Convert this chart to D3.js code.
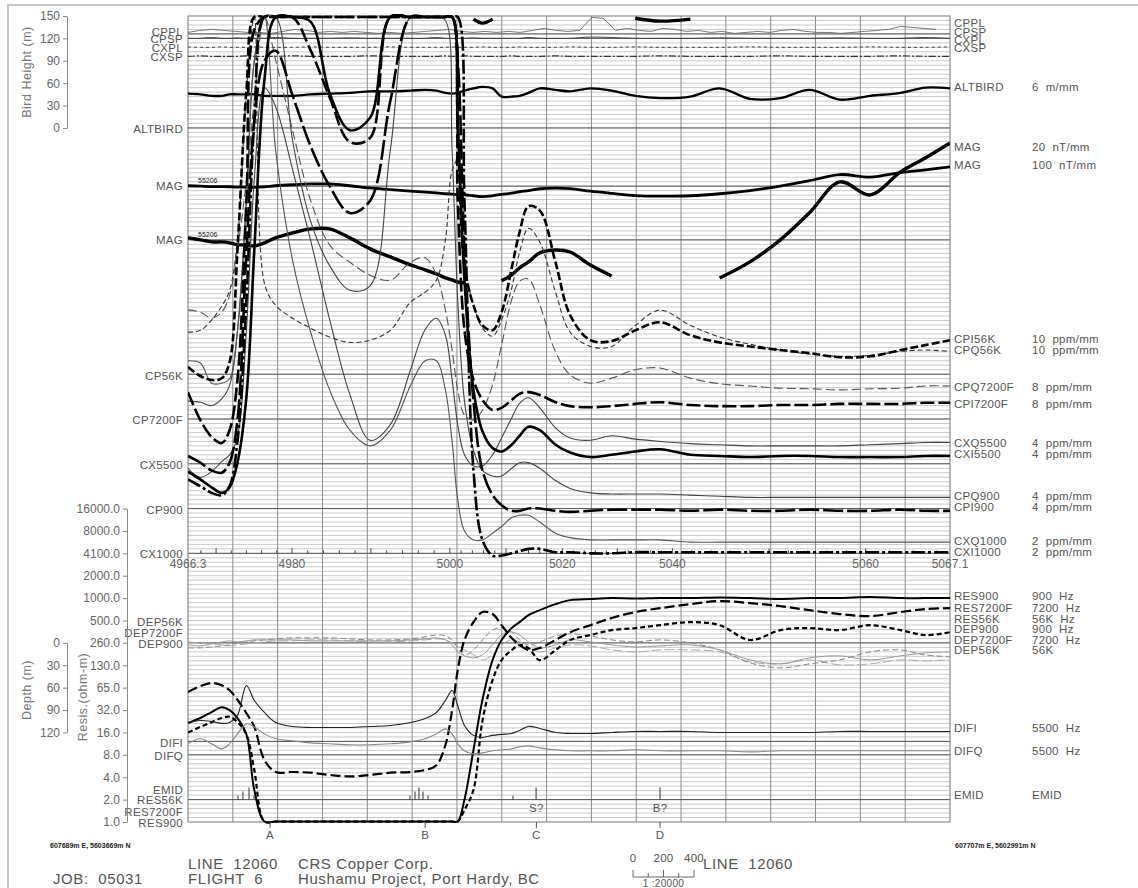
<!DOCTYPE html>
<html lang="en">
  <head>
    <meta charset="UTF-8" />
    <title>Line 12060 EM profile</title>
    <style>
      body { margin: 0; background: #fff; }
      svg { display: block; font-family: "Liberation Sans", Arial, sans-serif; }
      .lbl { font-size: 11.5px; fill: #555; letter-spacing: 0.3px; }
      .tick-lbl { font-size: 12px; fill: #666; }
      .axis-title { font-size: 12.5px; fill: #777; letter-spacing: 0.5px; }
      .coord { font-size: 7px; fill: #222; font-weight: bold; }
      .title { font-size: 15px; fill: #555; letter-spacing: 0.6px; }
    </style>
  </head>
  <body>
    <script src="https://cdn.jsdelivr.net/npm/d3@7"></script>
    <script>
      // sample positions along the line (m from start of plot)
      const dist = [0, 11, 21, 30, 37, 44, 52, 59, 68, 78, 93, 109, 126, 144, 162, 180, 198, 211, 221, 229,
        235, 240, 246, 254, 262, 271, 279, 288, 295, 303, 313, 327, 340, 358, 377, 398, 420, 447, 473, 500,
        527, 553, 580, 607, 634, 656, 678];

      // fiducials along the bottom axis and where they fall on the line
      const fidMarks = [4966.3, 4980, 5000, 5020, 5040, 5060, 5067.1];
      const fidDist = [0, 92.5, 233, 333, 431, 603, 678];
      const fidLabels = ["4966.3", "4980", "5000", "5020", "5040", "5060", "5067.1"];

      // bird height (m)
      const altbird = [46, 45, 43, 43, 45, 45, 45, 45, 43, 43, 43, 45, 46, 47, 49, 49, 50, 51, 50, 47,
        46, 47, 50, 53, 55, 53, 42, 42, 43, 47, 53, 51, 49, 53, 50, 43, 40, 42, 53, 39,
        40, 51, 38, 43, 47, 54, 53];

      // total magnetic field (nT)
      const magRef = 55206;
      const mag = [55215, 55206, 55197, 55197, 55193, 55184, 55184, 55179, 55193, 55215, 55237, 55255, 55255, 55215, 55166, 55130, 55094, 55072, 55054, 55036,
        55027, 55018, 55014, 54992, 54974, 54992, 55023, 55050, 55081, 55108, 55148, 55161, 55152, 55094, 55045, 54996, 54983, 54992, 55036, 55108,
        55206, 55327, 55465, 55407, 55510, 55572, 55639];

      // power line monitor (raw samples) and sferics monitors
      const cppl = [3.3, 7.8, 10, 7.8, 5.6, 3.3, 3.3, 1.1, 5.6, 10, 7.8, 3.3, 5.6, 3.3, 5.6, 3.3, 1.1, 3.3, 1.1, 3.3,
        5.6, 7.8, 10, 5.6, 3.3, 5.6, 3.3, 5.6, 3.3, 7.8, 12.3, 7.8, 5.6, 7.8, 36.8, 34.6, 7.8, 12.3, 7.8, 5.6,
        12.3, 10, 5.6, 7.8, 3.3, 5.6, 1.1, 3.3, 5.6, 3.3, 7.8, 10, 5.6, 3.3, 3.3, 1.1, 3.3, 5.6, 7.8, 10,
        16.7, 14.5, 12.3, 10];
      const cpsp = [0, 0, 0.2, 0, 0, 0.1, 0, 0, 0, 0.2, 0, 0, 0, 0.1, 0, 0, 0, 0, 0.2, 0, 0, 0, 0, 0.1, 0, 0, 0, 0, 0, 0.2,
        0, 0, 0, 0.3, 0.2, 0, 0, 0, 0.1, 0, 0, 0, 0.1, 0, 0, 0.2, 0];
      const cxpl = [0.1, 0, 0, 0.1, 0, 0, 0, 0.1, 0, 0, 0, 0.1, 0, 0, 0, 0.1, 0, 0, 0, 0, 0.1, 0, 0, 0, 0.1, 0, 0, 0, 0.1, 0,
        0, 0, 0.1, 0, 0, 0.1, 0, 0, 0, 0.1, 0, 0, 0, 0.1, 0, 0, 0.1];
      const cxsp = [0, 0.1, 0, 0, 0, 0, 0.1, 0, 0, 0, 0.1, 0, 0, 0, 0.1, 0, 0, 0, 0, 0.1, 0, 0, 0.1, 0, 0, 0, 0, 0.1, 0, 0,
        0, 0.1, 0, 0, 0, 0, 0.1, 0, 0, 0, 0.1, 0, 0, 0, 0.1, 0, 0];

      // EM in-phase / quadrature (ppm)
      const cpi56k = [16, -4, -13, -9, 27, 277, 634, 950, 950, 950, 950, 950, 950, 950, 950, 950, 950, 950, 950, 950,
        950, 545, 243, 154, 109, 98, 138, 237, 317, 375, 366, 250, 132, 76, 74, 98, 116, 87, 71, 62,
        54, 47, 38, 40, 54, 65, 76];
      const cpq56k = [94, 98, 121, 152, 187, 299, 634, 950, 203, 154, 125, 103, 83, 71, 76, 98, 161, 183, 210, 299,
        455, 478, 250, 154, 103, 85, 121, 192, 272, 326, 295, 183, 94, 62, 62, 109, 143, 109, 83, 67,
        54, 45, 40, 42, 51, 54, 51];
      const cpi7200f = [48, -2, -32, -43, -20, 70, 391, 695, 900, 900, 718, 659, 575, 495, 502, 900, 900, 900, 900, 900,
        900, 391, 159, 70, 34, 16, 20, 34, 45, 48, 43, 30, 23, 21, 23, 27, 30, 25, 23, 23,
        25, 25, 27, 27, 27, 29, 29];
      const cpq7200f = [195, 191, 180, 191, 221, 302, 427, 570, 800, 641, 516, 391, 311, 280, 257, 248, 280, 288, 257, 195,
        123, 52, 7, -2, 16, 61, 132, 213, 246, 250, 204, 120, 79, 64, 73, 88, 91, 73, 63, 59,
        55, 54, 52, 54, 55, 59, 59];
      const cxi5500 = [-7, -14, -21, -26, -21, 1, 60, 191, 343, 500, 500, 395, 331, 298, 309, 500, 500, 500, 500, 500,
        500, 307, 164, 66, 29, 14, 11, 17, 25, 33, 30, 17, 10, 6, 8, 11, 13, 8, 7, 6,
        7, 7, 6, 6, 6, 7, 7];
      const cxq5500 = [-4, -12, -7, 2, 8, 24, 120, 254, 336, 319, 263, 200, 129, 62, 21, 35, 84, 120, 130, 115,
        75, 35, 8, -2, -2, 8, 23, 41, 54, 59, 50, 32, 23, 21, 25, 22, 20, 18, 17, 16,
        16, 16, 16, 17, 18, 19, 19];
      const cpi900 = [47, 41, 34, 32, 41, 79, 230, 346, 400, 409, 369, 324, 288, 264, 275, 364, 600, 600, 600, 600,
        600, 400, 230, 96, 34, 12, 3, -2, -2, 0, 0, -2, -3, -2, -1, -1, -1, -2, -1, -2, -2, -1, -2, -2, -1, -2, -2];
      const cpq900 = [96, 95, 92, 98, 110, 159, 275, 400, 600, 600, 329, 257, 217, 195, 199, 320, 600, 600, 600, 436,
        320, 186, 96, 52, 34, 29, 29, 36, 41, 41, 36, 25, 18, 14, 13, 13, 13, 12, 11, 10,
        10, 10, 10, 10, 10, 10, 10];
      const cxi1000 = [33, 30, 27, 26, 30, 50, 113, 193, 300, 300, 300, 300, 300, 300, 300, 300, 300, 300, 300, 300,
        300, 300, 157, 37, 6, -1, -1, 0, 1, 2, 2, 0.5, 0.5, 0, 0, 0.5, 0.5, 0.5, 0.5, 0.5,
        0.5, 0.5, 0.5, 0.5, 0.5, 0.5, 0.5];
      const cxq1000 = [86, 85, 76, 76, 78, 99, 157, 220, 300, 180, 131, 99, 73, 55, 48, 55, 75, 86, 86, 73,
        50, 24, 10, 6, 6, 9, 12, 16, 17, 17, 14, 9, 7, 6, 6, 6, 6, 5, 5, 5,
        5, 5, 5, 5, 5, 5, 5];

      // apparent resistivity (ohm-m)
      const res900 = [21.4, 25, 30, 35, 32, 25, 15, 2.7, 0.8, 0.8, 0.8, 0.8, 0.8, 0.8, 0.8, 0.8, 0.8, 0.8, 0.8, 0.8,
        0.8, 0.9, 2.0, 9.3, 44, 150, 280, 405, 487, 605, 705, 850, 962, 995, 1024, 1010, 1030, 1024, 1040, 1024,
        1000, 1024, 1030, 1060, 1024, 1024, 1024];
      const res7200f = [56, 67, 74, 69, 59, 44, 29, 19, 6.8, 4.7, 4.7, 4.6, 4.3, 4.1, 4.3, 4.6, 4.7, 5.0, 5.8, 10.8,
        32, 110, 280, 487, 665, 625, 443, 297, 239, 205, 218, 280, 357, 443, 552, 665, 750, 850, 934, 878,
        799, 705, 625, 588, 665, 729, 750];
      const res56k = [16, 19, 22, 25, 26, 22, 15, 5.0, 0.8, 0.8, 0.8, 0.8, 0.8, 0.8, 0.8, 0.8, 0.8, 0.8, 0.8, 0.8,
        0.8, 0.8, 1.45, 2.7, 23, 81, 150, 205, 239, 218, 150, 205, 280, 326, 380, 405, 443, 487, 443, 280,
        380, 405, 380, 443, 380, 326, 357];

      // apparent depth (m)
      const dep900 = [2.7, 4.0, 1.3, -1.3, -2.7, -1.3, -2.7, -4.0, -4.0, -4.0, -4.0, -2.7, -2.7, -2.7, -2.7, -2.7, -4.0, -5.4, -6.7, -4.0,
        2.7, 12.1, 17.4, 20.1, 16.1, 2.7, -10.7, -14.7, -10.7, -1.3, 6.7, 2.7, -4.0, -1.3, 2.7, 5.4, 4.0, 2.7, 9.4, 22.8,
        28.1, 20.1, 17.4, 22.8, 17.4, 13.4, 12.1];
      const dep7200f = [6.7, 6.7, 5.4, 4.0, 2.7, 0, -1.3, -2.7, -4.0, -5.4, -6.7, -6.7, -6.7, -5.4, -4.0, -4.0, -5.4, -8.0, -10.7, -9.4,
        -4.0, 6.7, 16.1, 9.4, -4.0, -17.4, -20.1, -14.7, -4.0, 2.7, -1.3, -9.4, -12.1, -9.4, -4.0, -1.3, -4.0, 0, 9.4, 26.8,
        33.5, 28.1, 22.8, 12.1, 9.4, 16.1, 18.7];
      const dep56k = [-1.3, 0, 1.3, 2.7, 4.0, 2.7, 1.3, 0, -1.3, -2.7, -2.7, -4.0, -4.0, -2.7, -1.3, -1.3, -2.7, -4.0, -5.4, -4.0,
        0, 4.0, 9.4, 16.1, 22.8, 16.1, 2.7, -4.0, -1.3, 6.7, 12.1, 6.7, 2.7, 4.0, 9.4, 12.1, 9.4, 9.4, 12.1, 25.4,
        28.1, 22.8, 29.5, 28.1, 22.8, 24.1, 22.8];

      // difference channels, 5500 Hz (ppm)
      const difi = [21.2, 23.4, 22.3, 20.1, 21.2, 29, 62.5, 45.7, 32.3, 21.2, 16.7, 15.6, 15.6, 15.6, 16.7, 17.8, 21.2, 25.6, 32.3, 45.7,
        56.9, 39.9, 17.8, 6.7, 4.4, 6.7, 7.8, 8.9, 12.2, 16.7, 14.5, 10, 8.9, 8.9, 10, 11.1, 11.1, 11.1, 10, 10,
        10, 10, 11.1, 11.1, 11.1, 11.1, 11.1];
      const difq = [12.3, 17.9, 12.3, 6.7, 12.3, 23.4, 34.6, 31.2, 23.4, 17.9, 15.6, 13.4, 12.3, 11.2, 11.2, 12.3, 14.5, 17.9, 23.4, 29,
        23.4, 12.3, 4.5, 1.1, 2.2, 4.5, 5.6, 6.7, 8.9, 10, 7.8, 5.6, 4.5, 4.5, 4.5, 5.6, 4.5, 4.5, 4.5, 3.3,
        4.5, 4.5, 4.5, 4.5, 4.5, 4.5, 4.5];

      // EM picks and interpreted anomalies
      const emidDist = [44.5, 48.9, 54.3, 58.7, 197.5, 202, 205.5, 209.1, 213.6, 289.2, 309.7, 420];
      const emidGrade = [1, 2, 3, 1, 1, 2, 3, 2, 1, 1, 3, 3];
      const anomalies = ["A", "B", "C", "D"];
      const anomalyDist = [73, 211, 310, 420];
      const anomalyNote = ["", "", "S?", "B?"];

      const birdTicks = [0, 30, 60, 90, 120, 150];
      const depthTicks = [0, 30, 60, 90, 120];
      const resisTicks = [1, 2, 4, 8, 16, 32, 64, 128, 256, 512, 1024, 2048, 4096, 8192, 16384];
      const resisLabels = ["1.0", "2.0", "4.0", "8.0", "16.0", "32.0", "65.0", "130.0", "260.0", "500.0",
        "1000.0", "2000.0", "4100.0", "8000.0", "16000.0"];

      // ---------------- drawing ----------------
      const svg = d3.select("body").append("svg").attr("width", 1138).attr("height", 888);

      const plot = { left: 188, right: 950, top: 16, bottom: 822 };
      const paperX = d3.scaleLinear().domain([0, 170]).range([plot.left, plot.right]); // chart paper, mm
      const paperY = d3.scaleLinear().domain([0, 180]).range([plot.bottom, plot.top]);
      const x = d3.scaleLinear().domain([0, 678]).range([plot.left, plot.right]);
      const fidScale = d3.scaleLinear().domain(fidMarks).range(fidDist);

      // a channel drawn at baseline `base` (mm) with `perMm` units per mm
      const mmScale = (base, perMm, ref = 0) =>
        d3.scaleLinear().domain([ref, ref + perMm]).range([paperY(base), paperY(base + 1)]);
      const clampY = y => Math.max(plot.top + 1, Math.min(plot.bottom - 0.5, y));
      const curve = d3.line().curve(d3.curveCatmullRom.alpha(0.5));

      // outer frame
      svg.append("path").attr("d", "M8,888V5H1138").attr("fill", "none")
        .attr("stroke", "#c8c8c8").attr("stroke-width", 2);

      // paper grid
      const grid = svg.append("g");
      grid.selectAll(".hl").data(d3.range(1, 180)).join("line").attr("class", "hl")
        .attr("x1", plot.left).attr("x2", plot.right)
        .attr("y1", d => paperY(d)).attr("y2", d => paperY(d))
        .attr("stroke", "#bdbdbd").attr("stroke-width", 0.8);
      grid.selectAll(".vl").data(d3.range(10, 170, 10)).join("line").attr("class", "vl")
        .attr("y1", plot.top).attr("y2", plot.bottom)
        .attr("x1", d => paperX(d)).attr("x2", d => paperX(d))
        .attr("stroke", "#8c8c8c").attr("stroke-width", 1);

      // channel baselines
      const baseMm = [176, 175, 155, 142, 130, 100, 90, 80, 70, 60, 40, 18, 15, 5];
      grid.selectAll(".bl").data(baseMm).join("line").attr("class", "bl")
        .attr("x1", plot.left).attr("x2", plot.right)
        .attr("y1", d => paperY(d)).attr("y2", d => paperY(d))
        .attr("stroke", "#555").attr("stroke-width", 1);
      grid.append("rect").attr("x", plot.left).attr("y", plot.top)
        .attr("width", plot.right - plot.left).attr("height", plot.bottom - plot.top)
        .attr("fill", "none").attr("stroke", "#777").attr("stroke-width", 1);

      // fiducial axis on the CX1000 baseline
      const axisY = paperY(60);
      grid.selectAll(".ft").data(d3.range(4968, 5067, 2)).join("line").attr("class", "ft")
        .attr("x1", d => x(fidScale(d))).attr("x2", d => x(fidScale(d)))
        .attr("y1", axisY).attr("y2", d => axisY - (d % 10 === 0 ? 5 : 3))
        .attr("stroke", "#444").attr("stroke-width", 1);
      svg.append("g").selectAll("text").data(fidMarks).join("text")
        .attr("class", "tick-lbl").attr("text-anchor", "middle")
        .attr("x", d => x(fidScale(d))).attr("y", axisY + 15)
        .text((d, i) => fidLabels[i]);

      // traces
      svg.append("clipPath").attr("id", "plotclip").append("rect")
        .attr("x", plot.left).attr("y", plot.top - 2)
        .attr("width", plot.right - plot.left).attr("height", plot.bottom - plot.top + 4);
      const traces = svg.append("g").attr("clip-path", "url(#plotclip)");

      function drawTrace(values, yScale, style, xs = dist, xScale = x) {
        const pts = values.map((v, i) => [xScale(xs[i]), clampY(yScale(v))]);
        const line = style.linear ? d3.line() : curve;
        traces.append("path")
          .attr("d", line(pts))
          .attr("fill", "none")
          .attr("stroke", style.color || "#000")
          .attr("stroke-width", style.w)
          .attr("stroke-dasharray", style.dash || null)
          .attr("stroke-linejoin", "round");
      }

      // monitors
      const cpplX = d3.scaleLinear().domain([0, cppl.length - 1]).range([plot.left, 936]);
      drawTrace(cppl, mmScale(176, 10), { w: 0.9, color: "#666", linear: true }, d3.range(cppl.length), cpplX);
      drawTrace(cpsp, mmScale(175, 1), { w: 1, color: "#444" });
      drawTrace(cxpl, mmScale(173, 1), { w: 1, color: "#444", dash: "3,3" });
      drawTrace(cxsp, mmScale(171, 1), { w: 1.2, color: "#333", dash: "7,2,2,2" });

      // bird height
      const birdY = d3.scaleLinear().domain([0, 150]).range([paperY(155), paperY(180)]);
      drawTrace(altbird, birdY, { w: 2.4 });

      // magnetics: 100 nT/mm, and 20 nT/mm which wraps by 60 mm
      drawTrace(mag, mmScale(142, 100, magRef), { w: 2.8 });
      const mag20 = mmScale(130, 20, magRef);
      const segs = [];
      let seg = [], prev = null;
      mag.forEach((v, i) => {
        const wrapped = (v - magRef) / 20 < -10;
        if (prev !== null && wrapped !== prev) { segs.push(seg); seg = []; }
        const y = mag20(v) - (wrapped ? paperY(0) - paperY(60) : 0);
        seg.push([x(dist[i]), clampY(y)]);
        prev = wrapped;
      });
      segs.push(seg);
      segs.filter(s => s.length > 1).forEach(s => {
        traces.append("path").attr("d", curve(s)).attr("fill", "none")
          .attr("stroke", "#000").attr("stroke-width", 3.4).attr("stroke-linejoin", "round");
      });

      // EM channels
      const emChannels = [
        { data: cpq56k, base: 100, perMm: 10, w: 1.1, dash: "5,3", color: "#333" },
        { data: cpq7200f, base: 90, perMm: 8, w: 1.1, dash: "9,4", color: "#555" },
        { data: cxq5500, base: 80, perMm: 4, w: 1.1, color: "#444" },
        { data: cpq900, base: 70, perMm: 4, w: 1.1, color: "#444" },
        { data: cxq1000, base: 60, perMm: 2, w: 1.1, color: "#555" },
        { data: cpi56k, base: 100, perMm: 10, w: 2.6, dash: "8,3" },
        { data: cpi7200f, base: 90, perMm: 8, w: 2.6, dash: "14,4" },
        { data: cxi5500, base: 80, perMm: 4, w: 2.6 },
        { data: cpi900, base: 70, perMm: 4, w: 2.6, dash: "20,4" },
        { data: cxi1000, base: 60, perMm: 2, w: 2.6, dash: "14,3,3,3" }
      ];
      emChannels.forEach(c => drawTrace(c.data, mmScale(c.base, c.perMm), c));

      // resistivity and depth
      const resY = d3.scaleLog().base(2).domain([1, 16384]).range([paperY(0), paperY(70)]);
      const depY = d3.scaleLinear().domain([0, 120]).range([paperY(40), paperY(20)]);
      drawTrace(dep56k, depY, { w: 1, color: "#aaa", dash: "10,3" });
      drawTrace(dep7200f, depY, { w: 1, color: "#888", dash: "6,3" });
      drawTrace(dep900, depY, { w: 1, color: "#999" });
      drawTrace(res56k, resY, { w: 2.2, dash: "5,3" });
      drawTrace(res7200f, resY, { w: 2.2, dash: "10,4" });
      drawTrace(res900, resY, { w: 2 });

      drawTrace(difq, mmScale(15, 5), { w: 1.1, color: "#888" });
      drawTrace(difi, mmScale(18, 5), { w: 1.1, color: "#222" });

      // EM picks
      const emidY = d3.scaleLinear().domain([0, 3]).range([paperY(5), paperY(7.7)]);
      traces.selectAll(".emid").data(emidDist).join("line").attr("class", "emid")
        .attr("x1", d => x(d)).attr("x2", d => x(d))
        .attr("y1", emidY(0)).attr("y2", (d, i) => emidY(emidGrade[i]))
        .attr("stroke", "#333").attr("stroke-width", 1);

      // anomaly markers
      const anom = svg.append("g");
      anom.selectAll("line").data(anomalyDist).join("line")
        .attr("x1", d => x(d)).attr("x2", d => x(d))
        .attr("y1", plot.bottom).attr("y2", plot.bottom + 6)
        .attr("stroke", "#555");
      anom.selectAll(".let").data(anomalyDist).join("text").attr("class", "lbl let")
        .attr("text-anchor", "middle").attr("x", d => x(d)).attr("y", plot.bottom + 17)
        .text((d, i) => anomalies[i]);
      anom.selectAll(".note").data(anomalyDist).join("text").attr("class", "lbl note")
        .attr("text-anchor", "middle").attr("x", d => x(d)).attr("y", paperY(2.2))
        .text((d, i) => anomalyNote[i]);

      // start value of the mag traces
      svg.append("text").attr("class", "coord").attr("fill", "#666").style("font-weight", "normal")
        .attr("font-size", 8).attr("x", 198).attr("y", paperY(142) - 3).text(magRef);
      svg.append("text").attr("class", "coord").attr("fill", "#666").style("font-weight", "normal")
        .attr("font-size", 8).attr("x", 198).attr("y", paperY(130) - 3).text(magRef);

      // left channel labels
      const leftLabels = [["CPPL", 36], ["CPSP", 43], ["CXPL", 52], ["CXSP", 61], ["ALTBIRD", 133],
        ["MAG", 190], ["MAG", 244], ["CP56K", 380], ["CP7200F", 424], ["CX5500", 469], ["CP900", 514],
        ["CX1000", 558], ["DEP56K", 626], ["DEP7200F", 637], ["DEP900", 648], ["DIFI", 747], ["DIFQ", 760],
        ["EMID", 794], ["RES56K", 804], ["RES7200F", 816], ["RES900", 827]];
      svg.append("g").selectAll("text").data(leftLabels).join("text")
        .attr("class", "lbl").attr("text-anchor", "end")
        .attr("x", 183).attr("y", d => d[1]).text(d => d[0]);

      // right legend
      const rightLabels = [["CPPL", "", 27], ["CPSP", "", 36], ["CXPL", "", 44], ["CXSP", "", 52],
        ["ALTBIRD", "6  m/mm", 91], ["MAG", "20  nT/mm", 151], ["MAG", "100  nT/mm", 169],
        ["CPI56K", "10  ppm/mm", 343], ["CPQ56K", "10  ppm/mm", 354], ["CPQ7200F", "8  ppm/mm", 391],
        ["CPI7200F", "8  ppm/mm", 408], ["CXQ5500", "4  ppm/mm", 447], ["CXI5500", "4  ppm/mm", 458],
        ["CPQ900", "4  ppm/mm", 500], ["CPI900", "4  ppm/mm", 511], ["CXQ1000", "2  ppm/mm", 545],
        ["CXI1000", "2  ppm/mm", 556], ["RES900", "900  Hz", 600], ["RES7200F", "7200  Hz", 612],
        ["RES56K", "56K  Hz", 623], ["DEP900", "900  Hz", 633], ["DEP7200F", "7200  Hz", 644],
        ["DEP56K", "56K", 654], ["DIFI", "5500  Hz", 732], ["DIFQ", "5500  Hz", 755], ["EMID", "EMID", 799]];
      const rg = svg.append("g");
      rg.selectAll(".rn").data(rightLabels).join("text").attr("class", "lbl rn")
        .attr("x", 954).attr("y", d => d[2]).text(d => d[0]);
      rg.selectAll(".ru").data(rightLabels).join("text").attr("class", "lbl ru")
        .attr("x", 1032).attr("y", d => d[2]).style("white-space", "pre")
        .text(d => d[1]);

      // left axes
      function styleAxis(g) {
        g.selectAll("path, line").attr("stroke", "#888");
        g.selectAll("text").attr("class", "tick-lbl").attr("fill", null).attr("font-size", null).attr("font-family", null);
      }
      svg.append("g").attr("transform", "translate(67,0)")
        .call(d3.axisLeft(birdY).tickValues(birdTicks).tickSize(4).tickSizeOuter(0)).call(styleAxis);
      svg.append("g").attr("transform", "translate(67,0)")
        .call(d3.axisLeft(depY).tickValues(depthTicks).tickSize(4).tickSizeOuter(0)).call(styleAxis);
      svg.append("g").attr("transform", "translate(127,0)")
        .call(d3.axisLeft(resY).tickValues(resisTicks).tickSize(4).tickSizeOuter(0)
          .tickFormat((d, i) => resisLabels[i])).call(styleAxis);

      svg.append("text").attr("class", "axis-title").attr("text-anchor", "middle")
        .attr("transform", "translate(31,72) rotate(-90)").text("Bird Height (m)");
      svg.append("text").attr("class", "axis-title").attr("text-anchor", "middle")
        .attr("transform", "translate(31,690) rotate(-90)").text("Depth (m)");
      svg.append("text").attr("class", "axis-title").attr("text-anchor", "middle")
        .attr("transform", "translate(87,697) rotate(-90)").text("Resis.(ohm-m)");

      // footer
      svg.append("text").attr("class", "coord").attr("x", 50).attr("y", 848).text("607689m E,   5603669m N");
      svg.append("text").attr("class", "coord").attr("x", 955).attr("y", 848).text("607707m E,   5602991m N");
      const footer = [["LINE  12060", 188, 869], ["CRS Copper Corp.", 298, 869], ["JOB:  05031", 53, 884],
        ["FLIGHT  6", 188, 884], ["Hushamu Project, Port Hardy, BC", 298, 884], ["LINE  12060", 703, 869]];
      svg.append("g").selectAll("text").data(footer).join("text").attr("class", "title")
        .attr("x", d => d[1]).attr("y", d => d[2]).style("white-space", "pre").text(d => d[0]);

      // scale bar
      const sb = svg.append("g");
      const sbX = d3.scaleLinear().domain([0, 400]).range([633, 694]);
      sb.append("line").attr("x1", sbX(0)).attr("x2", sbX(400)).attr("y1", 877).attr("y2", 877).attr("stroke", "#666");
      sb.selectAll("line.t").data([0, 100, 200, 300, 400]).join("line").attr("class", "t")
        .attr("x1", d => sbX(d)).attr("x2", d => sbX(d)).attr("y1", 877).attr("y2", d => d % 200 ? 873 : 870)
        .attr("stroke", "#666");
      sb.selectAll("text.s").data([0, 200, 400]).join("text").attr("class", "lbl s")
        .attr("text-anchor", "middle").attr("x", d => sbX(d)).attr("y", 862).text(d => d);
      sb.append("text").attr("class", "lbl").attr("text-anchor", "middle").style("font-size", "10px")
        .attr("x", sbX(200)).attr("y", 887).text("1 :20000");
    </script>
  </body>
</html>
